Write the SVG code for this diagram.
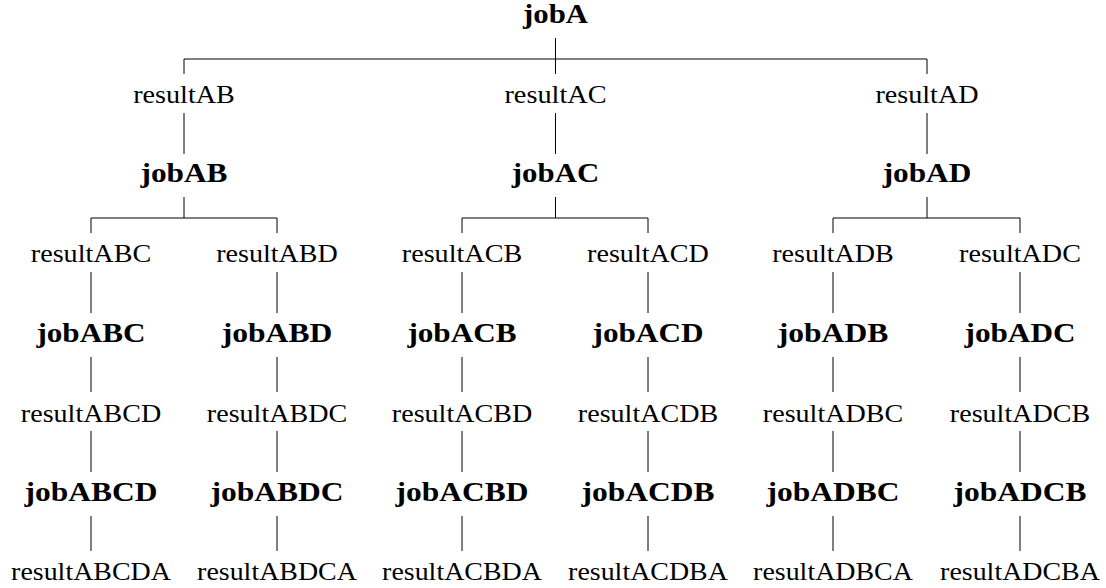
<svg xmlns="http://www.w3.org/2000/svg" width="1106" height="588" viewBox="0 0 1106 588">
<style>
text{font-family:"Liberation Serif","DejaVu Serif","Times New Roman",serif;font-size:26px;fill:#000;text-anchor:middle}
.j{font-weight:bold;font-size:27px}
.c line,.c path{stroke:#000;stroke-width:1;fill:none}
</style>
<rect width="1106" height="588" fill="#fff"/>
<g class="c" id="connectors">
<line x1="555.5" y1="38" x2="555.5" y2="74"/>
<path d="M184,74V59H927V74"/>
<line x1="184" y1="113" x2="184" y2="154"/>
<line x1="555.5" y1="113" x2="555.5" y2="154"/>
<line x1="927" y1="113" x2="927" y2="154"/>
<line x1="184" y1="197" x2="184" y2="218"/>
<line x1="555.5" y1="197" x2="555.5" y2="218"/>
<line x1="927" y1="197" x2="927" y2="218"/>
<path d="M91,233V218H277V233"/>
<path d="M462,233V218H648V233"/>
<path d="M833,233V218H1020V233"/>
<path d="M91,272V313M277,272V313M462,272V313M648,272V313M833,272V313M1020,272V313"/>
<path d="M91,357V392M277,357V392M462,357V392M648,357V392M833,357V392M1020,357V392"/>
<path d="M91,431V472M277,431V472M462,431V472M648,431V472M833,431V472M1020,431V472"/>
<path d="M91,516V551M277,516V551M462,516V551M648,516V551M833,516V551M1020,516V551"/>
</g>
<g id="jobA"><text class="j" x="555.5" y="23" textLength="65" lengthAdjust="spacingAndGlyphs">jobA</text></g>
<g id="resultAB"><text x="184" y="102.5" textLength="101.7" lengthAdjust="spacingAndGlyphs">resultAB</text></g>
<g id="resultAC"><text x="555.5" y="102.5" textLength="102.1" lengthAdjust="spacingAndGlyphs">resultAC</text></g>
<g id="resultAD"><text x="927" y="102.5" textLength="103.1" lengthAdjust="spacingAndGlyphs">resultAD</text></g>
<g id="jobAB"><text class="j" x="184" y="182" textLength="87" lengthAdjust="spacingAndGlyphs">jobAB</text></g>
<g id="jobAC"><text class="j" x="555.5" y="182" textLength="87.3" lengthAdjust="spacingAndGlyphs">jobAC</text></g>
<g id="jobAD"><text class="j" x="927" y="182" textLength="88.7" lengthAdjust="spacingAndGlyphs">jobAD</text></g>
<g id="resultABC"><text x="91" y="262" textLength="120.5" lengthAdjust="spacingAndGlyphs">resultABC</text></g>
<g id="resultABD"><text x="277" y="262" textLength="121.6" lengthAdjust="spacingAndGlyphs">resultABD</text></g>
<g id="resultACB"><text x="462" y="262" textLength="120.5" lengthAdjust="spacingAndGlyphs">resultACB</text></g>
<g id="resultACD"><text x="648" y="262" textLength="121.9" lengthAdjust="spacingAndGlyphs">resultACD</text></g>
<g id="resultADB"><text x="833" y="262" textLength="121.6" lengthAdjust="spacingAndGlyphs">resultADB</text></g>
<g id="resultADC"><text x="1020" y="262" textLength="121.9" lengthAdjust="spacingAndGlyphs">resultADC</text></g>
<g id="jobABC"><text class="j" x="91" y="342" textLength="109.2" lengthAdjust="spacingAndGlyphs">jobABC</text></g>
<g id="jobABD"><text class="j" x="277" y="342" textLength="110.6" lengthAdjust="spacingAndGlyphs">jobABD</text></g>
<g id="jobACB"><text class="j" x="462" y="342" textLength="109.2" lengthAdjust="spacingAndGlyphs">jobACB</text></g>
<g id="jobACD"><text class="j" x="648" y="342" textLength="111" lengthAdjust="spacingAndGlyphs">jobACD</text></g>
<g id="jobADB"><text class="j" x="833" y="342" textLength="110.6" lengthAdjust="spacingAndGlyphs">jobADB</text></g>
<g id="jobADC"><text class="j" x="1020" y="342" textLength="111" lengthAdjust="spacingAndGlyphs">jobADC</text></g>
<g id="resultABCD"><text x="91" y="421.5" textLength="140.3" lengthAdjust="spacingAndGlyphs">resultABCD</text></g>
<g id="resultABDC"><text x="277" y="421.5" textLength="140.3" lengthAdjust="spacingAndGlyphs">resultABDC</text></g>
<g id="resultACBD"><text x="462" y="421.5" textLength="140.3" lengthAdjust="spacingAndGlyphs">resultACBD</text></g>
<g id="resultACDB"><text x="648" y="421.5" textLength="140.3" lengthAdjust="spacingAndGlyphs">resultACDB</text></g>
<g id="resultADBC"><text x="833" y="421.5" textLength="140.3" lengthAdjust="spacingAndGlyphs">resultADBC</text></g>
<g id="resultADCB"><text x="1020" y="421.5" textLength="140.3" lengthAdjust="spacingAndGlyphs">resultADCB</text></g>
<g id="jobABCD"><text class="j" x="91" y="501" textLength="132.9" lengthAdjust="spacingAndGlyphs">jobABCD</text></g>
<g id="jobABDC"><text class="j" x="277" y="501" textLength="132.9" lengthAdjust="spacingAndGlyphs">jobABDC</text></g>
<g id="jobACBD"><text class="j" x="462" y="501" textLength="132.9" lengthAdjust="spacingAndGlyphs">jobACBD</text></g>
<g id="jobACDB"><text class="j" x="648" y="501" textLength="132.9" lengthAdjust="spacingAndGlyphs">jobACDB</text></g>
<g id="jobADBC"><text class="j" x="833" y="501" textLength="132.9" lengthAdjust="spacingAndGlyphs">jobADBC</text></g>
<g id="jobADCB"><text class="j" x="1020" y="501" textLength="132.9" lengthAdjust="spacingAndGlyphs">jobADCB</text></g>
<g id="resultABCDA"><text x="91" y="580" textLength="159.8" lengthAdjust="spacingAndGlyphs">resultABCDA</text></g>
<g id="resultABDCA"><text x="277" y="580" textLength="159.8" lengthAdjust="spacingAndGlyphs">resultABDCA</text></g>
<g id="resultACBDA"><text x="462" y="580" textLength="159.8" lengthAdjust="spacingAndGlyphs">resultACBDA</text></g>
<g id="resultACDBA"><text x="648" y="580" textLength="159.8" lengthAdjust="spacingAndGlyphs">resultACDBA</text></g>
<g id="resultADBCA"><text x="833" y="580" textLength="159.8" lengthAdjust="spacingAndGlyphs">resultADBCA</text></g>
<g id="resultADCBA"><text x="1020" y="580" textLength="159.8" lengthAdjust="spacingAndGlyphs">resultADCBA</text></g>
</svg>
